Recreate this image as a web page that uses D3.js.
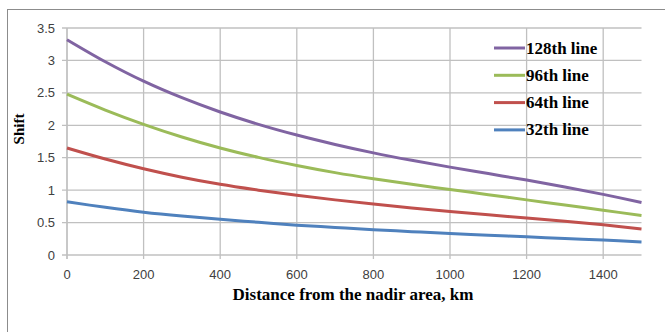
<!DOCTYPE html>
<html><head><meta charset="utf-8">
<script src="https://cdn.jsdelivr.net/npm/d3@7"></script>
<style>body{margin:0;background:#fff}svg{display:block}</style>
</head><body>
<svg id="c" width="665" height="332"></svg>
<script>
const distances = [0,100,200,300,400,500,600,700,800,900,1000,1100,1200,1300,1400,1500];
const line128 = [3.32,2.98,2.68,2.425,2.205,2.015,1.85,1.705,1.575,1.46,1.355,1.255,1.155,1.05,0.935,0.81];
const line96  = [2.48,2.235,2.015,1.82,1.65,1.505,1.38,1.27,1.175,1.09,1.01,0.93,0.85,0.77,0.69,0.61];
const line64  = [1.65,1.48,1.33,1.20,1.09,1.00,0.92,0.85,0.785,0.725,0.67,0.62,0.57,0.52,0.465,0.40];
const line32  = [0.82,0.735,0.66,0.60,0.55,0.505,0.46,0.425,0.39,0.36,0.33,0.305,0.28,0.255,0.23,0.20];
const seriesNames = ["128th line","96th line","64th line","32th line"];
const seriesColors = ["#8064A2","#9BBB59","#C0504D","#4F81BD"];
const xTicks = [0,200,400,600,800,1000,1200,1400];
const yTicks = [0,0.5,1,1.5,2,2.5,3,3.5];
const yTickLabels = ["0","0.5","1","1.5","2","2.5","3","3.5"];
const xTitle = "Distance from the nadir area, km";
const yTitle = "Shift";

const series = [line128,line96,line64,line32];
const svg = d3.select("#c");
const m = {l:67,r:641.5,t:28,b:255};
const x = d3.scaleLinear().domain([0,1500]).range([m.l,m.r]);
const y = d3.scaleLinear().domain([0,3.5]).range([m.b,m.t]);

svg.append("rect").attr("x",7.5).attr("y",9.5).attr("width",700).attr("height",400)
  .attr("fill","none").attr("stroke","#8c8c8c").attr("stroke-width",1);

const grid = svg.append("g").attr("stroke","#c0c0c0").attr("stroke-width",1.3);
yTicks.forEach(v=>{
  grid.append("line").attr("x1",m.l-5).attr("x2",m.r).attr("y1",y(v)).attr("y2",y(v));
});
xTicks.forEach(v=>{
  grid.append("line").attr("x1",x(v)).attr("x2",x(v)).attr("y1",m.t).attr("y2",m.b+4);
});
grid.append("line").attr("x1",m.l).attr("x2",m.l).attr("y1",m.t).attr("y2",m.b+4);

const lbl = svg.append("g").attr("font-family","'Liberation Sans', Arial, sans-serif").attr("font-size",13).attr("fill","#404040");
yTicks.forEach((v,i)=>{
  lbl.append("text").attr("x",55).attr("y",y(v)+4.5).attr("text-anchor","end").text(yTickLabels[i]);
});
xTicks.forEach(v=>{
  lbl.append("text").attr("x",x(v)).attr("y",279).attr("text-anchor","middle").text(v);
});

const line = d3.line().x((d,i)=>x(distances[i])).y(d=>y(d)).curve(d3.curveCatmullRom);
series.forEach((s,k)=>{
  svg.append("path").attr("d",line(s)).attr("fill","none")
    .attr("stroke",seriesColors[k]).attr("stroke-width",3);
});

const leg = svg.append("g");
seriesNames.forEach((n,k)=>{
  const ly = 48 + k*27.3;
  leg.append("line").attr("x1",494).attr("x2",525).attr("y1",ly).attr("y2",ly)
    .attr("stroke",seriesColors[k]).attr("stroke-width",3);
  leg.append("text").attr("x",526).attr("y",ly+5.5)
    .attr("font-family","'Liberation Serif','Times New Roman',serif").attr("font-weight","bold")
    .attr("font-size",17).attr("fill","#000").text(n);
});

svg.append("text").attr("x",353).attr("y",300).attr("text-anchor","middle")
  .attr("font-family","'Liberation Serif','Times New Roman',serif").attr("font-weight","bold")
  .attr("font-size",17).text(xTitle);
svg.append("text").attr("transform","translate(24,129) rotate(-90)").attr("text-anchor","middle")
  .attr("font-family","'Liberation Serif','Times New Roman',serif").attr("font-weight","bold")
  .attr("font-size",15).text(yTitle);
</script>
</body></html>
